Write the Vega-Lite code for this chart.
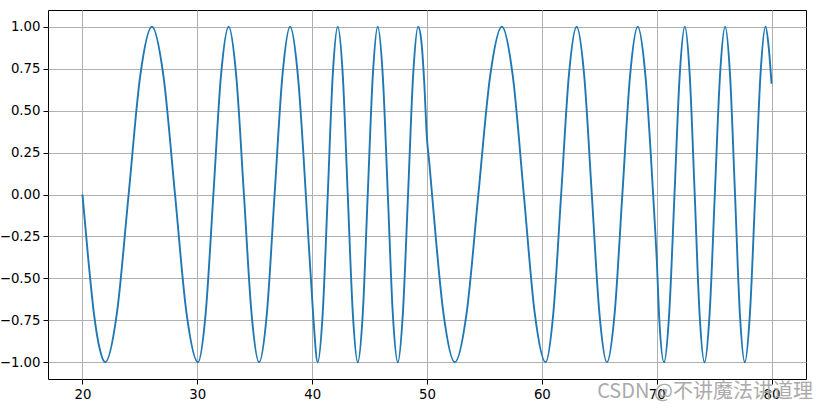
{
  "$schema": "https://vega.github.io/schema/vega-lite/v6.json",
  "width": 758,
  "height": 369,
  "autosize": "none",
  "padding": {"left": 48, "top": 10, "right": 10, "bottom": 31},
  "background": "white",
  "config": {
    "view": {"stroke": "black", "strokeWidth": 1},
    "font": "DejaVu Sans",
    "axis": {
      "domain": false,
      "grid": true,
      "gridColor": "#b0b0b0",
      "gridWidth": 1,
      "tickColor": "black",
      "tickSize": 5,
      "tickWidth": 1,
      "labelPadding": 3,
      "labelFont": "DejaVu Sans",
      "labelFontSize": 13.3,
      "labelColor": "black",
      "title": null
    }
  },
  "layer": [
    {
      "data": {
        "values": [
          {"x": 20.0, "y": 0},
          {"x": 20.5, "y": -0.38},
          {"x": 21.0, "y": -0.71},
          {"x": 21.5, "y": -0.92},
          {"x": 21.98, "y": -1},
          {"x": 23.0, "y": -0.707},
          {"x": 24.02, "y": 0},
          {"x": 25.03, "y": 0.707},
          {"x": 26.05, "y": 1},
          {"x": 27.05, "y": 0.707},
          {"x": 28.06, "y": 0},
          {"x": 29.06, "y": -0.707},
          {"x": 30.06, "y": -1},
          {"x": 30.73, "y": -0.707},
          {"x": 31.4, "y": 0},
          {"x": 32.06, "y": 0.707},
          {"x": 32.73, "y": 1},
          {"x": 33.39, "y": 0.707},
          {"x": 34.06, "y": 0},
          {"x": 34.72, "y": -0.707},
          {"x": 35.38, "y": -1},
          {"x": 36.06, "y": -0.707},
          {"x": 36.73, "y": 0},
          {"x": 37.41, "y": 0.707},
          {"x": 38.08, "y": 1},
          {"x": 38.76, "y": 0.707},
          {"x": 39.45, "y": 0},
          {"x": 39.68, "y": -0.27},
          {"x": 39.89, "y": -0.5},
          {"x": 40.11, "y": -0.74},
          {"x": 40.48, "y": -1},
          {"x": 40.92, "y": -0.707},
          {"x": 41.36, "y": 0},
          {"x": 41.79, "y": 0.707},
          {"x": 42.23, "y": 1},
          {"x": 42.67, "y": 0.707},
          {"x": 43.1, "y": 0},
          {"x": 43.54, "y": -0.707},
          {"x": 43.97, "y": -1},
          {"x": 44.41, "y": -0.707},
          {"x": 44.84, "y": 0},
          {"x": 45.28, "y": 0.707},
          {"x": 45.71, "y": 1},
          {"x": 46.15, "y": 0.707},
          {"x": 46.59, "y": 0},
          {"x": 47.02, "y": -0.707},
          {"x": 47.46, "y": -1},
          {"x": 47.9, "y": -0.707},
          {"x": 48.35, "y": 0},
          {"x": 48.79, "y": 0.707},
          {"x": 49.23, "y": 1},
          {"x": 49.5, "y": 0.92},
          {"x": 49.75, "y": 0.68},
          {"x": 50.0, "y": 0.33},
          {"x": 50.2, "y": 0.19},
          {"x": 50.44, "y": 0},
          {"x": 51.43, "y": -0.707},
          {"x": 52.42, "y": -1},
          {"x": 53.45, "y": -0.707},
          {"x": 54.47, "y": 0},
          {"x": 55.5, "y": 0.707},
          {"x": 56.52, "y": 1},
          {"x": 57.47, "y": 0.707},
          {"x": 58.43, "y": 0},
          {"x": 59.38, "y": -0.707},
          {"x": 60.33, "y": -1},
          {"x": 61.0, "y": -0.707},
          {"x": 61.68, "y": 0},
          {"x": 62.35, "y": 0.707},
          {"x": 63.03, "y": 1},
          {"x": 63.69, "y": 0.707},
          {"x": 64.35, "y": 0},
          {"x": 65.01, "y": -0.707},
          {"x": 65.67, "y": -1},
          {"x": 66.34, "y": -0.707},
          {"x": 67.01, "y": 0},
          {"x": 67.68, "y": 0.707},
          {"x": 68.35, "y": 1},
          {"x": 69.02, "y": 0.707},
          {"x": 69.69, "y": 0},
          {"x": 69.85, "y": -0.19},
          {"x": 70.0, "y": -0.38},
          {"x": 70.23, "y": -0.75},
          {"x": 70.64, "y": -1},
          {"x": 71.09, "y": -0.707},
          {"x": 71.55, "y": 0},
          {"x": 72.0, "y": 0.707},
          {"x": 72.45, "y": 1},
          {"x": 72.88, "y": 0.707},
          {"x": 73.31, "y": 0},
          {"x": 73.73, "y": -0.707},
          {"x": 74.16, "y": -1},
          {"x": 74.61, "y": -0.707},
          {"x": 75.06, "y": 0},
          {"x": 75.51, "y": 0.707},
          {"x": 75.96, "y": 1},
          {"x": 76.39, "y": 0.707},
          {"x": 76.82, "y": 0},
          {"x": 77.24, "y": -0.707},
          {"x": 77.67, "y": -1},
          {"x": 78.12, "y": -0.707},
          {"x": 78.58, "y": 0},
          {"x": 79.03, "y": 0.707},
          {"x": 79.48, "y": 1},
          {"x": 79.75, "y": 0.88},
          {"x": 80.0, "y": 0.66}
        ]
      },
      "mark": {"type": "line", "color": "#1f77b4", "strokeWidth": 1.9, "interpolate": "monotone"},
      "encoding": {
        "x": {
          "field": "x",
          "type": "quantitative",
          "scale": {"domain": [17, 83], "nice": false, "zero": false},
          "axis": {"values": [20, 30, 40, 50, 60, 70, 80], "format": "d"}
        },
        "y": {
          "field": "y",
          "type": "quantitative",
          "scale": {"domain": [-1.1, 1.1], "nice": false, "zero": false},
          "axis": {"values": [-1, -0.75, -0.5, -0.25, 0, 0.25, 0.5, 0.75, 1], "format": ".2f"}
        }
      }
    },
    {
      "data": {"values": [{"label": "CSDN @不讲魔法讲道理"}]},
      "mark": {
        "type": "text",
        "font": "Noto Sans CJK SC",
        "fontSize": 20,
        "color": "#aaaaaa",
        "align": "right",
        "baseline": "middle",
        "clip": false
      },
      "encoding": {
        "text": {"field": "label"},
        "x": {"datum": 83.6, "type": "quantitative"},
        "y": {"datum": -1.177, "type": "quantitative"}
      }
    }
  ]
}
